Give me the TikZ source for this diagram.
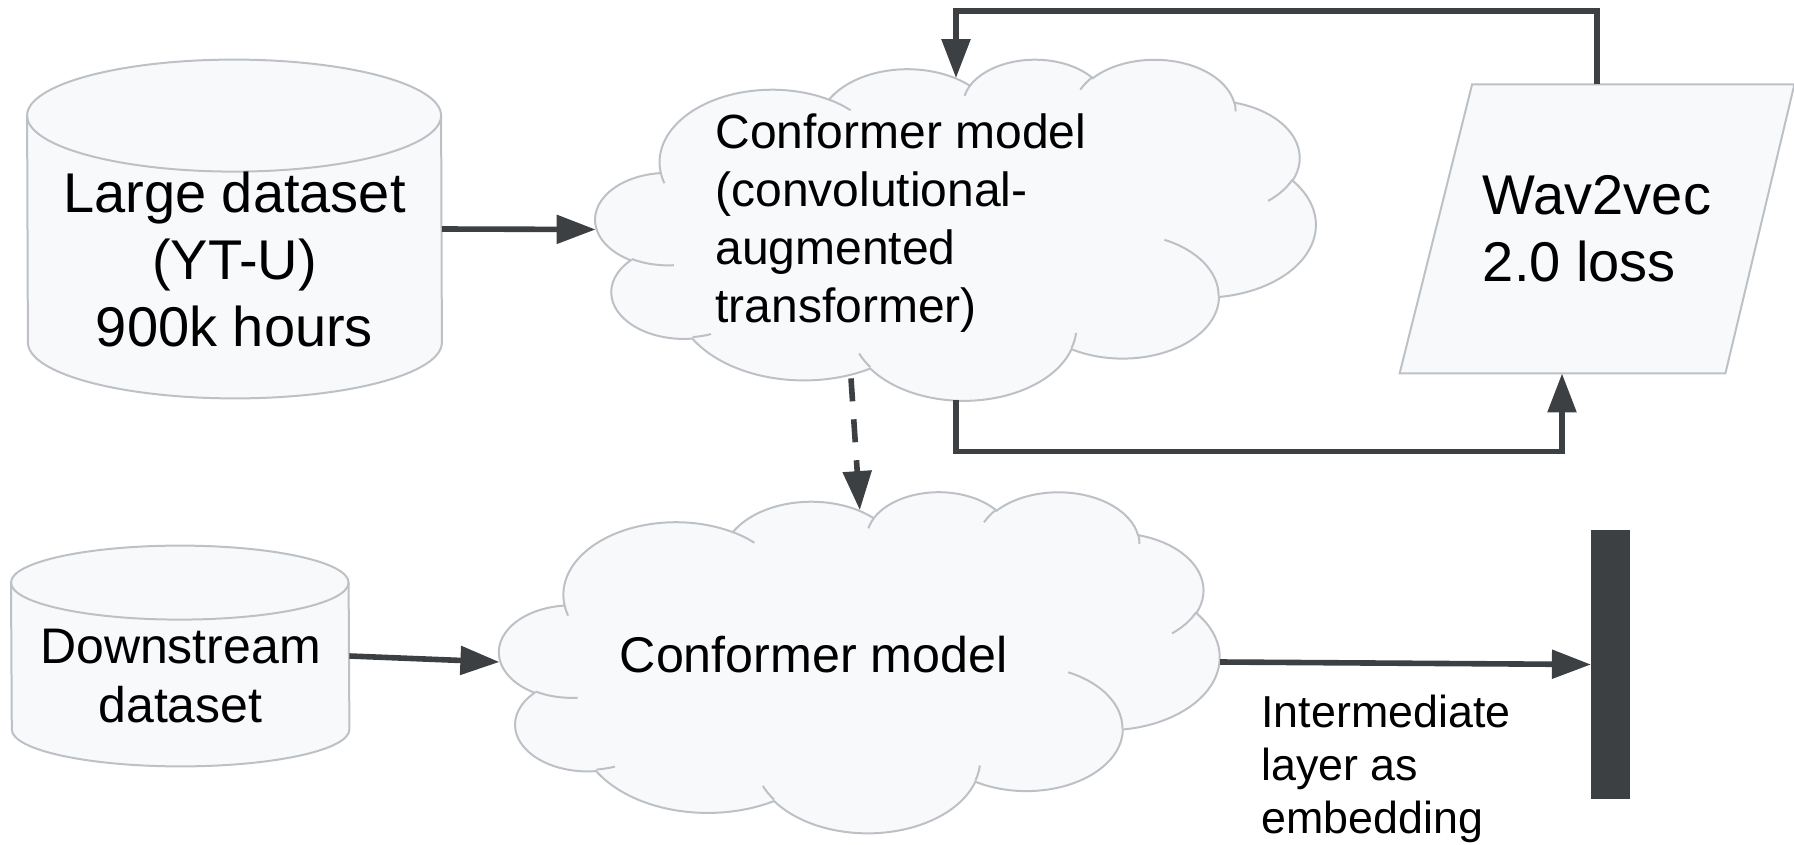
\documentclass[tikz,border=0pt]{standalone}
\usepackage{fontspec}
\setmainfont{Liberation Sans}
\usetikzlibrary{arrows.meta, calc, positioning}
\definecolor{boxfill}{HTML}{F8F9FA}
\definecolor{boxline}{HTML}{BDC1C6}
\definecolor{arrowgray}{HTML}{3C4043}

\begin{document}
\begin{tikzpicture}[x=.5pt, y=-.5pt,
	shapebox/.style={draw=boxline, fill=boxfill, line width=1pt},
	frame/.style={inner sep=0pt, minimum width=#1},
	cloudframe/.style={frame=360pt, minimum height=170.5pt},
	txt/.style={align=#1, inner sep=0pt},
	flow/.style={draw=arrowgray, line width=2.8pt, -{Triangle[length=19.5pt,width=14pt]}}]
\useasboundingbox (0,0) rectangle (1794,845);

		\node[frame=207pt, minimum height=169pt] (large) at (234.5,229) {};
		\node[frame=168.8pt, minimum height=110pt] (down) at (180.2,656) {};
		\node[cloudframe] (pre) at (956,229.5) {};
		\node[cloudframe] (post) at (859.8,662) {};
		\node[frame=197pt, minimum height=144.15pt] (loss) at (1597,228.9) {};
		\node[frame=19.5pt, minimum height=134.5pt, fill=arrowgray] (emb) at (1610.8,664.5) {};

\foreach \c/\w/\r in {large/207/56, down/168.8/37}
	{\path[shapebox] ($(\c.north west)+(0,\r)$) arc[start angle=180, end angle=360, x radius=\w, y radius=\r]
		-- ($(\c.south east)+(0,-\r)$) arc[start angle=0, end angle=180, x radius=\w, y radius=\r] -- cycle;
	\draw[boxline, line width=1pt] ($(\c.north west)+(0,\r)$) arc[start angle=180, end angle=0, x radius=\w, y radius=\r];}

\foreach \c in {pre,post}
	{\begin{scope}[shift={(\c.north west)}, x=.83333pt, y=-.39468pt]
		\path[shapebox] (39,143.7) \foreach \rx/\ry/\st/\sw in {67.53/91.90/-190.4875/123.7805, 53.33/72.67/-144.1024/89.9452,
			43.65/59.45/-145.8079/99.7230, 48.57/65.95/-130.9861/117.2417, 53.33/72.73/-78.7089/109.0269,
			67.75/92.20/-46.2673/130.2690, 57.85/78.67/0.6250/114.0333, 67.52/92.15/22.4516/115.1726,
			77.20/105.43/66.2426/75.7110, 43.60/59.18/-274.9421/146.7356, 43.45/59.45/-246.8285/152.5189}
			{arc[x radius=\rx, y radius=\ry, start angle={atan2(\rx*sin(\st),\ry*cos(\st))},
				delta angle={mod(atan2(\rx*sin(\st+\sw),\ry*cos(\st+\sw))-atan2(\rx*sin(\st),\ry*cos(\st))+720,360)}]} -- cycle;
		\draw[boxline, line width=1pt] \foreach \px/\py/\rx/\ry/\st/\sw in {46.93/261.77/43.45/59.45/86.7420/26.4295,
			69.28/348.99/43.60/59.18/73.6105/11.4475, 164.78/390.90/67.52/92.15/137.6242/14.0811,
			288.27/347.51/67.52/92.15/6.4533/15.9984, 341.29/229.54/57.85/78.67/-70.2924/70.9174,
			417.98/153.54/53.33/72.73/30.3180/27.7515, 383.24/54.26/48.57/65.95/-13.7443/14.8557,
			290.78/39.52/48.57/65.95/-149.1815/18.1954, 221.41/47.20/43.65/59.45/-163.4943/17.6864,
			140.00/51.92/67.53/91.90/-66.7070/12.3194, 41.27/157.89/67.53/91.90/157.6544/11.8582}
			{(\px,\py) arc[x radius=\rx, y radius=\ry, start angle={atan2(\rx*sin(\st),\ry*cos(\st))},
				delta angle={mod(atan2(\rx*sin(\st+\sw),\ry*cos(\st+\sw))-atan2(\rx*sin(\st),\ry*cos(\st))+720,360)}]};
	\end{scope}}

		\draw[shapebox] ($(loss.north west)+(72.5,0)$) -- (loss.north east) -- ($(loss.south east)+(-69,0)$) -- (loss.south west) -- cycle;

		\node[txt=center, font=\fontsize{28}{33.5}\selectfont] (largetext) at (234.5,259) {Large dataset\\(YT-U)\\900k hours};
		\node[txt=center, font=\fontsize{25}{29.5}\selectfont] (downtext) at (180.5,676) {Downstream\\dataset};
		\node[txt=left, anchor=west, font=\fontsize{24}{29}\selectfont] (pretext) at (715,223) {Conformer model\\(convolutional-\\augmented\\transformer)};
		\node[txt=center, font=\fontsize{25.1}{30}\selectfont] (posttext) at (813.7,655) {Conformer model};
		\node[txt=left, font=\fontsize{28}{33.75}\selectfont] (losstext) at (loss) {Wav2vec\\2.0 loss};
		\node[txt=left, anchor=west, font=\fontsize{22.4}{26.4}\selectfont] (embtext) at (1261,769) {Intermediate\\layer as\\embedding};

		\coordinate (tap) at ($(pre.south)+(-105,-22)$);

		\draw[flow] (large.east) -- (pre.west);
		\draw[flow] (loss.north) -- ++(0,-73.5) -| ($(pre.north)+(0,19.5)$);
		\draw[flow] (pre.south) -- ++(0,51) -| ($(loss.south)+(-35,0)$);
		\draw[flow, dash pattern=on 11.5pt off 9pt] (tap) -- ($(post.north)+(0,19)$);
		\draw[flow] (down.east) -- (post.west);
		\draw[flow] (post.east) -- (emb.west);

\end{tikzpicture}
\end{document}
